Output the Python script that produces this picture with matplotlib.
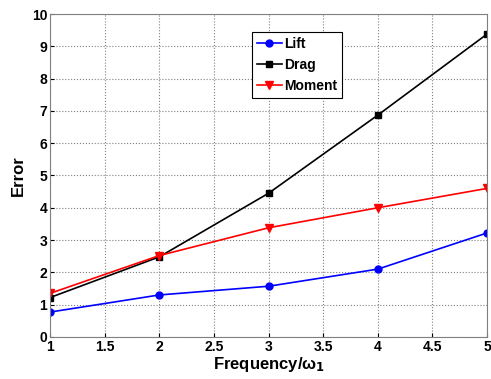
import matplotlib
matplotlib.use('Agg')
import matplotlib.pyplot as plt

plt.rcParams['font.family'] = ['Liberation Sans', 'DejaVu Sans']
plt.rcParams['font.weight'] = 'bold'
plt.rcParams['mathtext.fontset'] = 'custom'
plt.rcParams['mathtext.it'] = 'Liberation Sans:bold'
plt.rcParams['mathtext.rm'] = 'Liberation Sans:bold'

freq = [1, 2, 3, 4, 5]
lift = [0.77, 1.3, 1.57, 2.1, 3.22]
drag = [1.22, 2.48, 4.45, 6.87, 9.38]
moment = [1.35, 2.52, 3.38, 4.0, 4.6]

fig = plt.figure(figsize=(4.91, 3.79), dpi=100)
ax = fig.add_axes([0.102, 0.111, 0.890, 0.852])

ax.plot(freq, lift, 'o-', color='blue', lw=1.2, ms=5, label='Lift')
ax.plot(freq, drag, 's-', color='black', lw=1.2, ms=5, label='Drag')
ax.plot(freq, moment, 'v-', color='red', lw=1.2, ms=6, label='Moment')

ax.set_xlim(1, 5)
ax.set_ylim(0, 10)
ax.set_xticks([1, 1.5, 2, 2.5, 3, 3.5, 4, 4.5, 5])
ax.set_xticklabels(['1', '1.5', '2', '2.5', '3', '3.5', '4', '4.5', '5'])
ax.set_yticks(range(0, 11))
ax.tick_params(labelsize=10, direction='in', length=3, pad=2)
ax.grid(True, linestyle=':', color='gray', lw=0.8)
for s in ax.spines.values():
    s.set_color('gray')

ax.set_xlabel(r'Frequency/$\omega_{\mathbf{1}}$', fontsize=12, fontweight='bold', labelpad=1)
ax.set_ylabel('Error', fontsize=12, fontweight='bold', labelpad=4)

leg = ax.legend(loc='upper left', bbox_to_anchor=(0.462, 0.944), fontsize=10,
                fancybox=False, framealpha=1, edgecolor='black',
                handlelength=1.8, borderpad=0.35, labelspacing=0.5,
                handletextpad=0.15, borderaxespad=0)
leg.get_frame().set_linewidth(0.8)

fig.savefig('out.png', dpi=100)
